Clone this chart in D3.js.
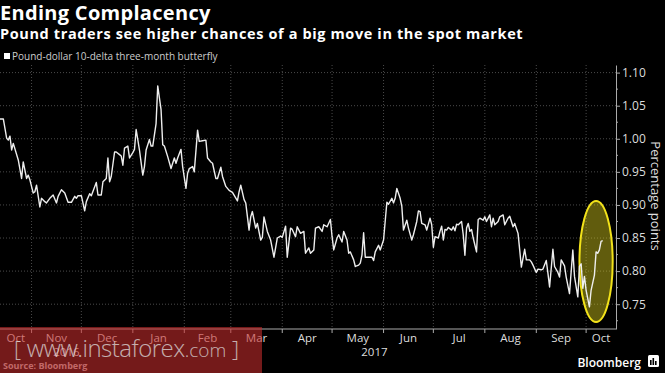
<!DOCTYPE html>
<html>
<head>
<meta charset="utf-8">
<script src="https://cdnjs.cloudflare.com/ajax/libs/d3/7.8.5/d3.min.js"></script>
<style>
  body { margin: 0; background: #000; }
  svg { display: block; }
</style>
</head>
<body>
<svg id="chart"></svg>
<script>
let w = 665;
let h = 373;
let chart1;
let xScale, yScale;

const title = "Ending Complacency";
const subtitle = "Pound traders see higher chances of a big move in the spot market";
const seriesName = "Pound-dollar 10-delta three-month butterfly";
const yLabel = "Percentage points";
const sourceText = "Source: Bloomberg";
const brandText = "Bloomberg";
const watermarkText = ["[ ", "www.instaforex", ".com", " ]"];

const xDomain = ["2016-10-13", "2017-10-19"];
const yDomain = [0.7125, 1.1115];
const yTicks = [0.75, 0.80, 0.85, 0.90, 0.95, 1.00, 1.05, 1.10];
const yMinorTicks = [0.725, 0.775, 0.825, 0.875, 0.925, 0.975, 1.025, 1.075];

// highlighted region (yellow ellipse)
const highlightDates = ["2017-09-27", "2017-10-17"];
const highlightValues = [0.723, 0.906];

const dates = [
  "2016-10-13","2016-10-15","2016-10-17","2016-10-18","2016-10-19","2016-10-20","2016-10-21","2016-10-24",
  "2016-10-26","2016-10-27","2016-10-29","2016-10-30","2016-10-31","2016-11-02","2016-11-03","2016-11-04",
  "2016-11-06","2016-11-07","2016-11-09","2016-11-10","2016-11-12","2016-11-14","2016-11-16","2016-11-17",
  "2016-11-19","2016-11-21","2016-11-23","2016-11-25","2016-11-27","2016-11-28","2016-11-29","2016-12-01",
  "2016-12-03","2016-12-04","2016-12-06","2016-12-07","2016-12-10","2016-12-11","2016-12-13","2016-12-14",
  "2016-12-16","2016-12-17","2016-12-18","2016-12-19","2016-12-21","2016-12-22","2016-12-24","2016-12-25",
  "2016-12-26","2016-12-27","2016-12-29","2016-12-30","2017-01-01","2017-01-02","2017-01-03","2017-01-05",
  "2017-01-07","2017-01-08","2017-01-09","2017-01-11","2017-01-12","2017-01-13","2017-01-15","2017-01-16",
  "2017-01-18","2017-01-19","2017-01-20","2017-01-22","2017-01-24","2017-01-26","2017-01-27","2017-01-28",
  "2017-01-30","2017-01-31","2017-02-02","2017-02-03","2017-02-04","2017-02-06","2017-02-07","2017-02-09",
  "2017-02-10","2017-02-12","2017-02-14","2017-02-15","2017-02-17","2017-02-18","2017-02-20","2017-02-21",
  "2017-02-23","2017-02-24","2017-02-26","2017-02-28","2017-03-02","2017-03-05","2017-03-06","2017-03-07",
  "2017-03-09","2017-03-10","2017-03-12","2017-03-13","2017-03-14","2017-03-16","2017-03-17","2017-03-19",
  "2017-03-20","2017-03-21","2017-03-23","2017-03-25","2017-03-27","2017-03-29","2017-03-31","2017-04-01",
  "2017-04-03","2017-04-04","2017-04-06","2017-04-07","2017-04-09","2017-04-10","2017-04-12","2017-04-14",
  "2017-04-15","2017-04-17","2017-04-18","2017-04-20","2017-04-21","2017-04-23","2017-04-25","2017-04-26",
  "2017-04-28","2017-04-30","2017-05-01","2017-05-02","2017-05-04","2017-05-05","2017-05-07","2017-05-08",
  "2017-05-10","2017-05-11","2017-05-12","2017-05-14","2017-05-15","2017-05-17","2017-05-18","2017-05-19",
  "2017-05-20","2017-05-21","2017-05-23","2017-05-25","2017-05-26","2017-05-27","2017-05-29","2017-05-30",
  "2017-06-01","2017-06-03","2017-06-04","2017-06-06","2017-06-07","2017-06-08","2017-06-09","2017-06-11",
  "2017-06-12","2017-06-13","2017-06-15","2017-06-16","2017-06-18","2017-06-19","2017-06-21","2017-06-22",
  "2017-06-23","2017-06-24","2017-06-26","2017-06-27","2017-06-29","2017-06-30","2017-07-01","2017-07-02",
  "2017-07-04","2017-07-05","2017-07-06","2017-07-07","2017-07-08","2017-07-09","2017-07-10","2017-07-12",
  "2017-07-13","2017-07-14","2017-07-15","2017-07-16","2017-07-18","2017-07-19","2017-07-20","2017-07-21",
  "2017-07-22","2017-07-23","2017-07-24","2017-07-25","2017-07-27","2017-07-28","2017-07-29","2017-07-31",
  "2017-08-01","2017-08-02","2017-08-04","2017-08-05","2017-08-06","2017-08-07","2017-08-09","2017-08-10",
  "2017-08-12","2017-08-13","2017-08-15","2017-08-16","2017-08-18","2017-08-19","2017-08-21","2017-08-22",
  "2017-08-23","2017-08-25","2017-08-26","2017-08-28","2017-08-29","2017-08-30","2017-09-01","2017-09-02",
  "2017-09-04","2017-09-05","2017-09-07","2017-09-08","2017-09-09","2017-09-11","2017-09-12","2017-09-14",
  "2017-09-15","2017-09-16","2017-09-18","2017-09-19","2017-09-21","2017-09-23","2017-09-24","2017-09-26",
  "2017-09-27","2017-09-28","2017-09-29","2017-09-30","2017-10-01","2017-10-03","2017-10-04","2017-10-06",
  "2017-10-07","2017-10-08","2017-10-09","2017-10-10","2017-10-11"
];

const values = [
  1.030,1.030,1.001,0.998,1.004,0.983,0.993,0.968,
  0.940,0.965,0.940,0.945,0.938,0.918,0.920,0.930,
  0.897,0.910,0.905,0.903,0.910,0.915,0.903,0.913,
  0.923,0.918,0.904,0.904,0.913,0.910,0.914,0.914,
  0.891,0.905,0.917,0.914,0.934,0.915,0.915,0.935,
  0.940,0.971,0.935,0.943,0.980,0.980,0.976,0.974,
  0.960,0.986,0.989,0.971,0.979,0.984,1.014,0.983,
  0.945,0.958,0.983,0.999,0.989,0.989,1.023,1.080,
  1.044,0.991,0.989,0.973,0.955,0.971,0.963,0.971,
  0.984,0.958,0.925,0.948,0.955,0.958,0.950,1.013,
  0.996,0.997,0.998,0.971,0.965,0.963,0.940,0.940,
  0.957,0.943,0.928,0.922,0.919,0.906,0.920,0.930,
  0.908,0.903,0.862,0.882,0.890,0.865,0.872,0.847,
  0.851,0.882,0.860,0.847,0.821,0.850,0.853,0.851,
  0.868,0.821,0.865,0.863,0.852,0.867,0.857,0.860,
  0.827,0.835,0.827,0.832,0.865,0.867,0.860,0.870,
  0.867,0.878,0.852,0.832,0.850,0.855,0.844,0.860,
  0.847,0.827,0.829,0.817,0.807,0.809,0.812,0.824,
  0.858,0.821,0.821,0.821,0.816,0.829,0.839,0.832,
  0.847,0.904,0.901,0.910,0.903,0.910,0.925,0.910,
  0.898,0.862,0.877,0.865,0.847,0.855,0.875,0.891,
  0.890,0.872,0.870,0.862,0.880,0.870,0.836,0.852,
  0.850,0.860,0.868,0.847,0.863,0.862,0.866,0.862,
  0.867,0.861,0.871,0.870,0.875,0.855,0.824,0.865,
  0.872,0.860,0.863,0.850,0.829,0.878,0.880,0.877,
  0.882,0.875,0.885,0.867,0.880,0.870,0.875,0.882,
  0.885,0.870,0.880,0.883,0.867,0.872,0.857,0.832,
  0.806,0.833,0.817,0.817,0.814,0.809,0.798,0.803,
  0.802,0.803,0.816,0.797,0.776,0.833,0.807,0.798,
  0.791,0.817,0.808,0.791,0.766,0.832,0.792,0.761,
  0.807,0.811,0.774,0.792,0.771,0.746,0.771,0.794,
  0.829,0.827,0.832,0.845,0.846
];

const parse = d3.timeParse("%Y-%m-%d");

function initGraph() {
  chart1 = d3.select("#chart")
    .attr("width", w)
    .attr("height", h)
    .style("background", "#000");

  const plotTop = 65, plotBottom = 329, plotRight = 616;
  const d0 = parse(xDomain[0]), d1 = parse(xDomain[1]);

  xScale = d3.scaleTime().domain([d0, d1]).range([0, plotRight]);
  yScale = d3.scaleLinear().domain(yDomain).range([plotBottom, plotTop]);

  const data = dates.map((d, i) => ({ date: parse(d), value: values[i] }));

  // titles
  chart1.append("text")
    .attr("x", 0).attr("y", 20)
    .attr("font-family", "Open Sans")
    .attr("font-weight", "bold")
    .attr("font-size", "20px")
    .attr("letter-spacing", "0.3px")
    .attr("fill", "#fff")
    .text(title);

  chart1.append("text")
    .attr("x", 0).attr("y", 38.5)
    .attr("font-family", "Open Sans")
    .attr("font-weight", "bold")
    .attr("font-size", "14.5px")
    .attr("letter-spacing", "0.62px")
    .attr("fill", "#fff")
    .text(subtitle);

  // legend
  chart1.append("rect")
    .attr("x", 4).attr("y", 53)
    .attr("width", 6).attr("height", 6)
    .attr("fill", "#fff");
  chart1.append("text")
    .attr("x", 12).attr("y", 59.5)
    .attr("font-family", "Open Sans")
    .attr("font-size", "10px")
    .attr("fill", "#ccc")
    .text(seriesName);

  // grid
  const months = d3.timeMonth.range(d3.timeMonth.ceil(d0), d1);
  const grid = chart1.append("g")
    .attr("stroke", "#4a4a4a")
    .attr("stroke-dasharray", "1,2");
  grid.selectAll(".hg")
    .data(yTicks)
    .enter()
    .append("line")
      .attr("x1", 0).attr("x2", plotRight)
      .attr("y1", (d) => yScale(d)).attr("y2", (d) => yScale(d));
  grid.selectAll(".vg")
    .data(months)
    .enter()
    .append("line")
      .attr("x1", (d) => xScale(d)).attr("x2", (d) => xScale(d))
      .attr("y1", plotTop).attr("y2", plotBottom);

  // y axis on the right
  const yAxis = d3.axisRight(yScale)
    .tickValues(yTicks)
    .tickFormat(d3.format(".2f"))
    .tickSize(4)
    .tickSizeOuter(0);
  const yAxisGroup = chart1.append("g")
    .attr("transform", `translate(${plotRight}, 0)`)
    .call(yAxis);
  yAxisGroup.select(".domain").attr("stroke", "#aaa");
  yAxisGroup.selectAll(".tick line").attr("stroke", "#aaa");
  yAxisGroup.selectAll(".tick text")
    .attr("x", 6)
    .attr("font-family", "Open Sans")
    .attr("font-size", "12px")
    .attr("fill", "#ddd");

  chart1.append("g")
    .selectAll("line")
    .data(yMinorTicks)
    .enter()
    .append("line")
      .attr("x1", plotRight).attr("x2", plotRight + 2)
      .attr("y1", (d) => yScale(d)).attr("y2", (d) => yScale(d))
      .attr("stroke", "#aaa");

  chart1.append("text")
    .attr("transform", `translate(651, ${(plotTop + plotBottom) / 2 - 1}) rotate(90)`)
    .attr("text-anchor", "middle")
    .attr("font-family", "Open Sans")
    .attr("font-size", "13px")
    .attr("fill", "#ddd")
    .text(yLabel);

  // x axis
  chart1.append("line")
    .attr("x1", 0).attr("x2", plotRight)
    .attr("y1", plotBottom).attr("y2", plotBottom)
    .attr("stroke", "#aaa");
  chart1.append("g")
    .selectAll("line")
    .data(months)
    .enter()
    .append("line")
      .attr("x1", (d) => xScale(d)).attr("x2", (d) => xScale(d))
      .attr("y1", plotBottom).attr("y2", plotBottom + 4)
      .attr("stroke", "#aaa");

  const allMonths = d3.timeMonth.range(d3.timeMonth.floor(d0), d1);
  const clampMid = (a, b) => (xScale(a < d0 ? d0 : a) + xScale(b > d1 ? d1 : b)) / 2;
  chart1.append("g")
    .selectAll("text")
    .data(allMonths)
    .enter()
    .append("text")
      .attr("x", (d) => clampMid(d, d3.timeMonth.offset(d, 1)))
      .attr("y", 342)
      .attr("text-anchor", "middle")
      .attr("font-family", "Open Sans")
      .attr("font-size", "11.5px")
      .attr("fill", "#ddd")
      .text(d3.timeFormat("%b"));

  const years = d3.timeYear.range(d3.timeYear.floor(d0), d1);
  chart1.append("g")
    .selectAll("text")
    .data(years)
    .enter()
    .append("text")
      .attr("x", (d) => clampMid(d, d3.timeYear.offset(d, 1)))
      .attr("y", 356)
      .attr("text-anchor", "middle")
      .attr("font-family", "Open Sans")
      .attr("font-size", "11.5px")
      .attr("fill", "#ddd")
      .text(d3.timeFormat("%Y"));

  // highlight ellipse
  const hx0 = xScale(parse(highlightDates[0])), hx1 = xScale(parse(highlightDates[1]));
  const hy0 = yScale(highlightValues[1]), hy1 = yScale(highlightValues[0]);
  chart1.append("ellipse")
    .attr("cx", (hx0 + hx1) / 2)
    .attr("cy", (hy0 + hy1) / 2)
    .attr("rx", (hx1 - hx0) / 2)
    .attr("ry", (hy1 - hy0) / 2)
    .attr("fill", "rgba(230, 220, 30, 0.42)")
    .attr("stroke", "#f2e21a")
    .attr("stroke-width", 2);

  // line
  const line = d3.line()
    .x((d) => xScale(d.date))
    .y((d) => yScale(d.value));
  chart1.append("path")
    .datum(data)
    .attr("d", line)
    .attr("fill", "none")
    .attr("stroke", "#eee")
    .attr("stroke-width", 1.4)
    .attr("stroke-linejoin", "round");

  // footer
  chart1.append("text")
    .attr("x", 3).attr("y", 369)
    .attr("font-family", "Open Sans")
    .attr("font-weight", "bold")
    .attr("font-size", "9px")
    .attr("fill", "#bbb")
    .text(sourceText);

  chart1.append("text")
    .attr("x", 641).attr("y", 367)
    .attr("text-anchor", "end")
    .attr("font-family", "Open Sans")
    .attr("font-weight", "600")
    .attr("font-size", "12px")
    .attr("fill", "#fff")
    .text(brandText);
  const logo = chart1.append("g").attr("transform", "translate(648, 355)");
  logo.append("rect")
    .attr("width", 11).attr("height", 12).attr("rx", 1.5)
    .attr("fill", "#fff");
  logo.selectAll(".bar")
    .data([[3, 5], [5.5, 3], [8, 6]])
    .enter()
    .append("rect")
      .attr("x", (d) => d[0] - 1).attr("y", (d) => d[1])
      .attr("width", 1.6).attr("height", (d) => 10 - d[1])
      .attr("fill", "#000");

  // watermark overlay
  const wm = chart1.append("g");
  wm.append("rect")
    .attr("x", 0).attr("y", 327)
    .attr("width", 262).attr("height", 46)
    .attr("fill", "rgba(200, 45, 45, 0.58)");
  const wmText = wm.append("text")
    .attr("x", 14).attr("y", 357)
    .attr("font-family", "Open Sans")
    .attr("font-weight", "300")
    .attr("fill", "rgba(225, 225, 225, 0.75)");
  wmText.append("tspan").attr("font-size", "22px").text(watermarkText[0]);
  wmText.append("tspan").attr("font-size", "24px").attr("letter-spacing", "-0.5px").text(watermarkText[1]);
  wmText.append("tspan").attr("font-size", "19px").text(watermarkText[2]);
  wmText.append("tspan").attr("font-size", "22px").text(watermarkText[3]);
}

initGraph();
</script>
</body>
</html>
